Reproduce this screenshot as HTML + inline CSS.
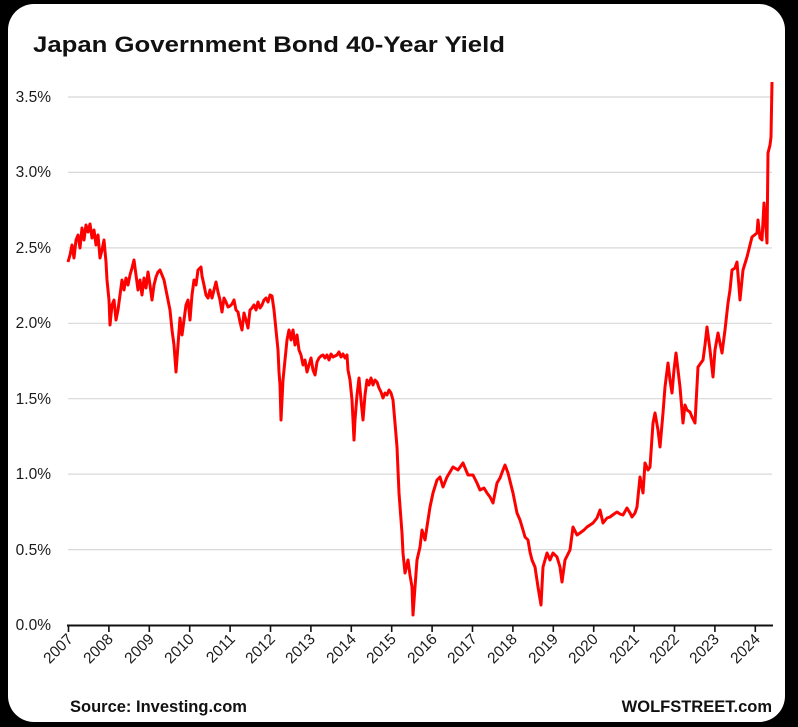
<!DOCTYPE html>
<html><head><meta charset="utf-8"><style>
html,body{margin:0;padding:0;background:#000;}
body{width:798px;height:727px;overflow:hidden;position:relative;}
.panel{position:absolute;left:8px;top:4px;width:777px;height:718px;background:#fff;border-radius:26px;}
svg{position:absolute;left:0;top:0;}
text{font-family:"Liberation Sans",sans-serif;}
</style></head><body>
<div class="panel"></div>
<svg width="798" height="727" viewBox="0 0 798 727">
<text x="33" y="52" font-size="22" font-weight="bold" fill="#111" textLength="472" lengthAdjust="spacingAndGlyphs">Japan Government Bond 40-Year Yield</text>
<g stroke="#d8d8d8" stroke-width="1.2">
<line x1="68" x2="772" y1="97" y2="97"/>
<line x1="68" x2="772" y1="172.4" y2="172.4"/>
<line x1="68" x2="772" y1="247.9" y2="247.9"/>
<line x1="68" x2="772" y1="323.3" y2="323.3"/>
<line x1="68" x2="772" y1="398.7" y2="398.7"/>
<line x1="68" x2="772" y1="474.1" y2="474.1"/>
<line x1="68" x2="772" y1="549.6" y2="549.6"/>
</g>
<g font-size="15.5" fill="#1a1a1a" text-anchor="end">
<text x="51" y="102">3.5%</text>
<text x="51" y="177">3.0%</text>
<text x="51" y="253">2.5%</text>
<text x="51" y="328">2.0%</text>
<text x="51" y="404">1.5%</text>
<text x="51" y="479">1.0%</text>
<text x="51" y="555">0.5%</text>
<text x="51" y="630">0.0%</text>
</g>
<polyline fill="none" stroke="#ff0000" stroke-width="3" stroke-linejoin="round" points="
68,262 70,255 72,245 74,258 76,240 78,235 80,248 82,228 84,240 86,225 88,232 90,224 92,238 94,230 96,245 98,235 100,258 102,250 104,240 106,262 107,280 109,300 110,325 112,305 114,300 116,320 118,310 120,295 122,280 124,290 126,278 128,285 130,275 132,268 134,260 136,275 138,290 140,280 142,295 144,278 146,288 148,272 150,285 152,300 154,285 156,277 158,272 160,270 162,275 164,280 166,290 168,300 170,310 172,330 174,345 176,372 178,345 180,318 182,335 184,320 186,305 188,300 190,320 192,295 194,280 196,285 198,270 201,267 202,276 204,285 206,295 208,298 210,290 212,298 214,290 216,282 218,292 220,300 222,312 224,298 226,302 228,307 230,306 232,304 234,300 236,310 238,312 240,322 242,330 244,313 246,320 248,328 250,310 252,308 254,305 256,310 258,302 260,308 262,305 264,300 266,298 268,302 270,295 272,296 274,310 276,330 278,350 279,372 280,385 281,420 283,380 285,360 287,340 289,330 291,340 293,330 295,345 297,335 299,350 301,355 303,365 305,360 307,372 309,365 311,358 313,370 315,375 317,362 319,358 321,356 323,355 325,358 327,355 329,360 331,354 333,357 335,356 337,355 339,352 341,357 343,354 345,358 347,355 348,370 350,380 352,400 354,440 355,420 357,395 359,378 361,400 363,420 365,395 367,380 369,385 371,378 373,385 375,380 377,382 379,388 381,392 383,398 385,393 387,395 389,390 391,393 393,400 395,423 397,447 399,493 402,533 403,553 405,573 408,560 410,575 412,587 413,615 415,587 417,560 420,547 422,530 425,540 428,520 430,507 433,493 437,480 440,477 443,487 447,477 450,472 453,467 458,470 463,463 468,475 473,475 477,483 480,490 484,488 487,493 490,497 493,503 497,483 500,478 503,470 505,465 508,473 511,485 513,493 517,513 520,520 523,530 525,537 528,540 530,552 532,560 535,567 538,587 541,605 543,567 547,553 550,560 553,553 557,557 560,567 562,582 565,560 570,550 573,527 577,535 580,533 584,530 587,527 590,525 593,523 597,518 600,510 603,523 607,518 610,517 614,514 617,512 620,514 623,515 627,508 630,513 632,517 635,513 637,507 640,477 643,493 645,463 648,470 650,467 653,423 655,413 658,430 660,447 663,413 665,387 668,363 670,380 672,393 674,370 676,353 678,370 680,387 683,423 685,405 687,410 690,412 692,417 695,423 698,367 703,360 705,345 707,327 710,350 713,377 715,350 718,333 722,353 725,330 728,303 730,290 732,270 735,268 737,262 740,300 743,270 747,257 750,245 752,237 757,233 758,220 760,238 762,240 764,203 767,243 768,153 770,145 771,137 772,82"/>
<g stroke="#111" stroke-width="2">
<line x1="67" x2="773" y1="625.5" y2="625.5"/>
</g>
<g stroke="#111" stroke-width="1.6">
<line x1="68.5" x2="68.5" y1="625" y2="632"/><line x1="108.9" x2="108.9" y1="625" y2="632"/><line x1="149.3" x2="149.3" y1="625" y2="632"/><line x1="189.7" x2="189.7" y1="625" y2="632"/><line x1="230.1" x2="230.1" y1="625" y2="632"/><line x1="270.5" x2="270.5" y1="625" y2="632"/><line x1="310.9" x2="310.9" y1="625" y2="632"/><line x1="351.3" x2="351.3" y1="625" y2="632"/><line x1="391.7" x2="391.7" y1="625" y2="632"/><line x1="432.1" x2="432.1" y1="625" y2="632"/><line x1="472.5" x2="472.5" y1="625" y2="632"/><line x1="512.9" x2="512.9" y1="625" y2="632"/><line x1="553.3" x2="553.3" y1="625" y2="632"/><line x1="593.7" x2="593.7" y1="625" y2="632"/><line x1="634.1" x2="634.1" y1="625" y2="632"/><line x1="674.5" x2="674.5" y1="625" y2="632"/><line x1="714.9" x2="714.9" y1="625" y2="632"/><line x1="755.3" x2="755.3" y1="625" y2="632"/>
</g>
<g font-size="15.5" fill="#1a1a1a" text-anchor="end">
<text transform="translate(74,640) rotate(-45)">2007</text>
<text transform="translate(114,640) rotate(-45)">2008</text>
<text transform="translate(155,640) rotate(-45)">2009</text>
<text transform="translate(195,640) rotate(-45)">2010</text>
<text transform="translate(236,640) rotate(-45)">2011</text>
<text transform="translate(276,640) rotate(-45)">2012</text>
<text transform="translate(316,640) rotate(-45)">2013</text>
<text transform="translate(357,640) rotate(-45)">2014</text>
<text transform="translate(397,640) rotate(-45)">2015</text>
<text transform="translate(438,640) rotate(-45)">2016</text>
<text transform="translate(478,640) rotate(-45)">2017</text>
<text transform="translate(518,640) rotate(-45)">2018</text>
<text transform="translate(559,640) rotate(-45)">2019</text>
<text transform="translate(599,640) rotate(-45)">2020</text>
<text transform="translate(640,640) rotate(-45)">2021</text>
<text transform="translate(680,640) rotate(-45)">2022</text>
<text transform="translate(720,640) rotate(-45)">2023</text>
<text transform="translate(761,640) rotate(-45)">2024</text>
</g>
<text x="70" y="712" font-size="16.5" font-weight="bold" fill="#111">Source: Investing.com</text>
<text x="772" y="712" font-size="16.5" font-weight="bold" fill="#111" text-anchor="end">WOLFSTREET.com</text>
</svg>
</body></html>
